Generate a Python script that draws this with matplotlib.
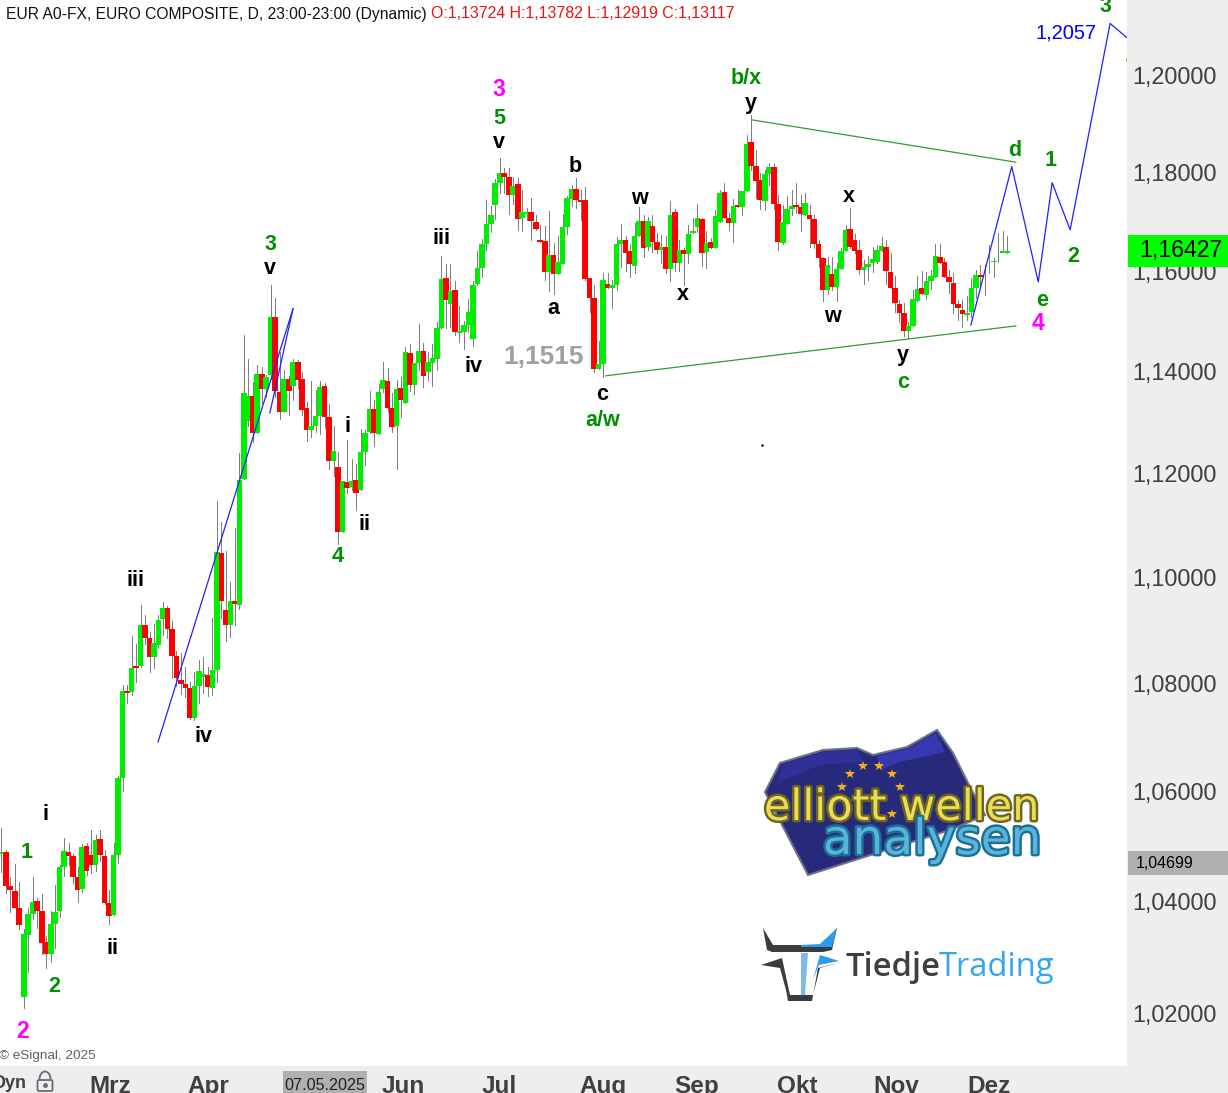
import numpy as np
import matplotlib
matplotlib.use('Agg')
import matplotlib.pyplot as plt
import matplotlib.patheffects as pe
import matplotlib.transforms as mtrans
from matplotlib.patches import Polygon, Rectangle, FancyBboxPatch, Arc

W, H = 1228, 1093

opens = [
1.0487,1.0491,1.0429,1.0420,1.0389,1.0231,1.0341,1.0379,1.0402,1.0384,1.0328,1.0307,1.0361,1.0384,1.0464,
1.0491,1.0484,1.0445,1.0424,1.0502,1.0485,1.0467,1.0514,1.0484,1.0398,1.0377,1.0485,1.0626,1.0788,1.0786,
1.0835,1.0835,1.0912,1.0887,1.0852,1.0874,1.0923,1.0944,1.0904,1.0854,1.0808,1.0801,1.0793,1.0737,1.0797,
1.0814,1.0818,1.0793,1.0827,1.1049,1.0940,1.0912,1.0958,1.0950,1.1192,1.1305,1.1354,1.1282,1.1398,1.1368,
1.1396,1.1511,1.1362,1.1323,1.1388,1.1374,1.1421,1.1388,1.1331,1.1287,1.1295,1.1315,1.1374,1.1313,1.1227,
1.1215,1.1089,1.1186,1.1176,1.1190,1.1171,1.1244,1.1283,1.1329,1.1280,1.1368,1.1384,1.1331,1.1295,1.1370,
1.1340,1.1439,1.1376,1.1419,1.1443,1.1401,1.1419,1.1427,1.1489,1.1589,1.1537,1.1565,1.1479,1.1481,1.1495,
1.1467,1.1577,1.1609,1.1657,1.1698,1.1737,1.1781,1.1802,1.1794,1.1757,1.1779,1.1710,1.1718,1.1722,1.1702,
1.1666,1.1663,1.1601,1.1635,1.1597,1.1617,1.1692,1.1749,1.1769,1.1747,1.1747,1.1589,1.1549,1.1407,1.1417,
1.1577,1.1569,1.1575,1.1657,1.1666,1.1643,1.1613,1.1674,1.1704,1.1651,1.1694,1.1661,1.1645,1.1651,1.1607,
1.1722,1.1619,1.1645,1.1637,1.1680,1.1692,1.1708,1.1641,1.1661,1.1649,1.1702,1.1763,1.1710,1.1700,1.1737,
1.1732,1.1765,1.1865,1.1816,1.1788,1.1745,1.1800,1.1814,1.1739,1.1659,1.1698,1.1728,1.1737,1.1732,1.1716,
1.1716,1.1708,1.1657,1.1629,1.1565,1.1597,1.1571,1.1607,1.1643,1.1688,1.1666,1.1645,1.1605,1.1611,1.1619,
1.1621,1.1643,1.1651,1.1601,1.1569,1.1537,1.1519,1.1483,1.1493,1.1543,1.1569,1.1555,1.1583,1.1591,1.1631,
1.1621,1.1591,1.1579,1.1537,1.1525,1.1515,1.1521,1.1569,1.1595,1.1599,1.1609,1.1621,1.1670,1.1639,1.1639]
highs = [
1.0535,1.0494,1.0446,1.0469,1.0436,1.0352,1.0389,1.0445,1.0407,1.0415,1.0339,1.0384,1.0431,1.0467,1.0516,
1.0507,1.0488,1.0464,1.0505,1.0507,1.0531,1.0522,1.0531,1.0494,1.0422,1.0507,1.0630,1.0799,1.0799,1.0891,
1.0876,1.0950,1.0931,1.0899,1.0914,1.0931,1.0956,1.0948,1.0920,1.0863,1.0859,1.0833,1.0805,1.0823,1.0846,
1.0852,1.0833,1.0925,1.1149,1.1109,1.1053,1.0994,1.1097,1.1242,1.1475,1.1427,1.1382,1.1415,1.1411,1.1396,
1.1575,1.1549,1.1441,1.1405,1.1394,1.1427,1.1425,1.1401,1.1342,1.1384,1.1366,1.1384,1.1380,1.1338,1.1295,
1.1244,1.1188,1.1268,1.1231,1.1221,1.1289,1.1287,1.1364,1.1346,1.1378,1.1421,1.1409,1.1360,1.1386,1.1392,
1.1451,1.1457,1.1419,1.1497,1.1459,1.1441,1.1457,1.1501,1.1633,1.1617,1.1617,1.1583,1.1533,1.1503,1.1547,
1.1583,1.1643,1.1668,1.1747,1.1735,1.1790,1.1833,1.1812,1.1812,1.1794,1.1792,1.1767,1.1730,1.1751,1.1716,
1.1696,1.1694,1.1724,1.1659,1.1674,1.1718,1.1755,1.1777,1.1792,1.1767,1.1773,1.1589,1.1575,1.1463,1.1599,
1.1599,1.1585,1.1672,1.1698,1.1674,1.1657,1.1700,1.1732,1.1716,1.1712,1.1716,1.1680,1.1676,1.1674,1.1745,
1.1728,1.1666,1.1649,1.1696,1.1710,1.1739,1.1710,1.1684,1.1670,1.1726,1.1767,1.1781,1.1720,1.1749,1.1767,
1.1765,1.1880,1.1921,1.1849,1.1802,1.1808,1.1822,1.1820,1.1757,1.1737,1.1755,1.1767,1.1781,1.1757,1.1761,
1.1737,1.1716,1.1666,1.1631,1.1631,1.1631,1.1619,1.1649,1.1696,1.1730,1.1678,1.1666,1.1625,1.1633,1.1651,
1.1655,1.1672,1.1666,1.1639,1.1593,1.1545,1.1539,1.1501,1.1565,1.1593,1.1603,1.1601,1.1605,1.1657,1.1657,
1.1629,1.1605,1.1599,1.1545,1.1545,1.1553,1.1589,1.1605,1.1615,1.1615,1.1655,1.1629,1.1680,1.1684,1.1674]
lows = [
1.0455,1.0416,1.0383,1.0416,1.0351,1.0211,1.0274,1.0369,1.0354,1.0306,1.0282,1.0293,1.0318,1.0374,1.0448,
1.0467,1.0435,1.0401,1.0419,1.0449,1.0453,1.0456,1.0474,1.0397,1.0361,1.0377,1.0471,1.0602,1.0765,1.0780,
1.0805,1.0833,1.0876,1.0823,1.0831,1.0868,1.0893,1.0887,1.0813,1.0797,1.0782,1.0777,1.0736,1.0734,1.0765,
1.0784,1.0778,1.0780,1.0805,1.0925,1.0882,1.0889,1.0912,1.0942,1.1192,1.1295,1.1264,1.1282,1.1340,1.1352,
1.1388,1.1352,1.1309,1.1323,1.1317,1.1346,1.1370,1.1317,1.1266,1.1274,1.1283,1.1280,1.1291,1.1211,1.1198,
1.1066,1.1089,1.1165,1.1171,1.1132,1.1171,1.1219,1.1282,1.1256,1.1280,1.1362,1.1323,1.1283,1.1211,1.1313,
1.1340,1.1364,1.1358,1.1405,1.1372,1.1386,1.1374,1.1405,1.1489,1.1489,1.1491,1.1475,1.1461,1.1447,1.1481,
1.1453,1.1575,1.1591,1.1645,1.1682,1.1708,1.1761,1.1761,1.1718,1.1739,1.1686,1.1684,1.1706,1.1666,1.1686,
1.1661,1.1585,1.1563,1.1557,1.1597,1.1617,1.1678,1.1735,1.1730,1.1706,1.1585,1.1521,1.1401,1.1407,1.1392,
1.1569,1.1529,1.1565,1.1611,1.1603,1.1591,1.1599,1.1674,1.1631,1.1645,1.1641,1.1639,1.1619,1.1599,1.1583,
1.1603,1.1603,1.1575,1.1619,1.1680,1.1682,1.1613,1.1609,1.1649,1.1649,1.1702,1.1710,1.1686,1.1661,1.1732,
1.1716,1.1765,1.1808,1.1751,1.1728,1.1726,1.1777,1.1728,1.1645,1.1657,1.1698,1.1716,1.1720,1.1684,1.1716,
1.1651,1.1649,1.1611,1.1543,1.1557,1.1565,1.1543,1.1607,1.1643,1.1649,1.1639,1.1597,1.1577,1.1585,1.1601,
1.1619,1.1643,1.1577,1.1569,1.1521,1.1501,1.1473,1.1469,1.1493,1.1543,1.1557,1.1547,1.1567,1.1591,1.1619,
1.1591,1.1559,1.1519,1.1505,1.1491,1.1505,1.1511,1.1549,1.1575,1.1555,1.1599,1.1591,1.1621,1.1641,1.1639]
closes = [
1.0491,1.0429,1.0421,1.0389,1.0359,1.0343,1.0379,1.0400,1.0384,1.0327,1.0307,1.0361,1.0382,1.0464,1.0493,
1.0484,1.0445,1.0422,1.0500,1.0456,1.0467,1.0513,1.0485,1.0398,1.0375,1.0485,1.0626,1.0788,1.0784,1.0831,
1.0831,1.0912,1.0887,1.0852,1.0878,1.0922,1.0944,1.0904,1.0854,1.0812,1.0801,1.0793,1.0737,1.0797,1.0825,
1.0820,1.0795,1.0827,1.1051,1.0958,1.0912,1.0958,1.0952,1.1190,1.1360,1.1354,1.1282,1.1398,1.1368,1.1392,
1.1511,1.1364,1.1323,1.1388,1.1364,1.1421,1.1386,1.1327,1.1287,1.1295,1.1315,1.1372,1.1313,1.1227,1.1246,
1.1089,1.1188,1.1174,1.1188,1.1165,1.1244,1.1282,1.1329,1.1282,1.1362,1.1386,1.1331,1.1293,1.1368,1.1346,
1.1441,1.1376,1.1419,1.1443,1.1394,1.1421,1.1429,1.1489,1.1587,1.1545,1.1563,1.1481,1.1483,1.1495,1.1521,
1.1575,1.1609,1.1657,1.1698,1.1716,1.1781,1.1802,1.1794,1.1757,1.1775,1.1708,1.1722,1.1722,1.1704,1.1688,
1.1661,1.1601,1.1635,1.1597,1.1621,1.1692,1.1751,1.1769,1.1747,1.1743,1.1587,1.1549,1.1407,1.1417,1.1585,
1.1569,1.1575,1.1657,1.1666,1.1639,1.1617,1.1674,1.1704,1.1649,1.1704,1.1661,1.1645,1.1651,1.1607,1.1716,
1.1619,1.1645,1.1637,1.1678,1.1684,1.1710,1.1639,1.1659,1.1649,1.1714,1.1761,1.1710,1.1700,1.1735,1.1732,
1.1765,1.1861,1.1816,1.1785,1.1747,1.1800,1.1814,1.1739,1.1661,1.1702,1.1728,1.1735,1.1732,1.1718,1.1741,
1.1708,1.1657,1.1629,1.1565,1.1615,1.1571,1.1607,1.1643,1.1686,1.1651,1.1643,1.1605,1.1611,1.1617,1.1627,
1.1645,1.1653,1.1603,1.1569,1.1539,1.1519,1.1483,1.1493,1.1547,1.1567,1.1557,1.1583,1.1593,1.1633,1.1619,
1.1591,1.1581,1.1537,1.1529,1.1517,1.1519,1.1569,1.1595,1.1591,1.1599,1.1609,1.1623,1.1670,1.1643,1.1643]

price_ticks = [1.20, 1.18, 1.16, 1.14, 1.12, 1.10, 1.08, 1.06, 1.04, 1.02]
month_labels = ['Mrz', 'Apr', 'Jun', 'Jul', 'Aug', 'Sep', 'Okt', 'Nov', 'Dez']
month_bars = [24.2, 46.0, 89.4, 110.8, 134.0, 154.9, 177.2, 199.4, 220.0]

# projected wave path and the trend lines, bar number / price
proj_bars = [215.9, 225.0, 230.9, 234.0, 238.0, 246.9, 250.66]
proj_prices = [1.1495, 1.1815, 1.1581, 1.1782, 1.1686, 1.2112, 1.2082]
upper_bars, upper_prices = [167.2, 225.9], [1.1911, 1.1824]
lower_bars, lower_prices = [134.6, 225.9], [1.1394, 1.1493]
channel_bars, channel_prices = [34.9, 64.95], [1.0693, 1.1527]
channel2_bars, channel2_prices = [59.8, 64.95], [1.1321, 1.1527]

# wave labels: text, x px, y px
black_labels = [('v', 499, 143), ('y', 751, 104), ('b', 575, 166), ('w', 639, 199), ('x', 849, 196),
                ('x', 683, 295), ('a', 553, 309), ('c', 602, 395), ('v', 270, 269), ('iii', 441, 239),
                ('iv', 473, 366), ('i', 347, 426), ('ii', 365, 524), ('iii', 135, 581), ('iv', 203, 737),
                ('i', 45, 815), ('ii', 113, 949), ('w', 832, 317), ('y', 903, 356)]
green_labels = [('5', 499, 118), ('b/x', 746, 78), ('a/w', 603, 420), ('3', 270, 244), ('4', 338, 556),
                ('1', 27, 852), ('2', 54, 986), ('c', 903, 382), ('d', 1015, 151), ('1', 1051, 160),
                ('2', 1073, 256), ('e', 1042, 301), ('3', 1105, 7)]
magenta_labels = [('3', 499, 90), ('2', 23, 1031), ('4', 1038, 324)]

plt.rcParams['font.family'] = ['Liberation Sans', 'DejaVu Sans']
fig = plt.figure(figsize=(W/100, H/100), dpi=100, facecolor='#eeeeee')
ax = fig.add_axes([0, 1-1066/H, 1127/W, 1066/H], facecolor='white')

bars = np.arange(len(opens))
o, h, l, c = map(np.array, (opens, highs, lows, closes))
ax.vlines(bars, l, h, color='#7f7f7f', lw=0.6, zorder=1, antialiased=False)
up = c >= o
cols = np.where(up, '#00ee00', '#ff0000')
ax.bar(bars, np.abs(c-o), 1.25, bottom=np.minimum(o, c), color=cols, lw=0, zorder=2, antialiased=False)

ax.plot(proj_bars, proj_prices, color='#1f1fff', lw=0.9, zorder=3)
ax.plot(channel_bars, channel_prices, color='#1f1fff', lw=0.9, zorder=3)
ax.plot(channel2_bars, channel2_prices, color='#1f1fff', lw=0.9, zorder=3)
ax.plot(upper_bars, upper_prices, color='#2e9e2e', lw=0.9, zorder=3)
ax.plot(lower_bars, lower_prices, color='#2e9e2e', lw=0.9, zorder=3)

ax.set_yscale('log')
ax.set_ylim(1.01086, 1.21613)
ax.set_xlim(-0.29, 250.66)
ax.yaxis.tick_right()
ax.minorticks_off()
ax.set_yticks(price_ticks)
ax.set_yticklabels([('%.5f' % p).replace('.', ',') for p in price_ticks])
ax.tick_params(axis='y', length=0, pad=4, labelsize=16.9, labelcolor='#404040')
# labels sit a little above their tick in the reference
nudge = mtrans.ScaledTranslation(0, 1.5/100, fig.dpi_scale_trans)
for t in ax.yaxis.get_major_ticks():
    t.label2.set_transform(t.label2.get_transform() + nudge)
ax.set_xticks(month_bars)
ax.set_xticklabels(month_labels, fontweight='bold')
ax.tick_params(axis='x', length=0, pad=6.5, labelsize=17.5, labelcolor='#404040')
for s in ax.spines.values():
    s.set_visible(False)

# overlay in pixel coordinates for annotations, logos and boxes
ov = fig.add_axes([0, 0, 1, 1], facecolor='none')
ov.set_xlim(0, W)
ov.set_ylim(H, 0)
ov.axis('off')

for txt, x, y in black_labels:
    ov.text(x, y, txt, color='black', fontsize=15.5, fontweight='bold', ha='center', va='center')
for txt, x, y in green_labels:
    ov.text(x, y, txt, color='#009000', fontsize=15.5, fontweight='bold', ha='center', va='center')
for txt, x, y in magenta_labels:
    ov.text(x, y, txt, color='#ff00ff', fontsize=16.5, fontweight='bold', ha='center', va='center')
ov.text(544, 357, '1,1515', color='#a0a0a0', fontsize=19, fontweight='bold', ha='center', va='center')
ov.text(1066, 33, '1,2057', color='#0000ff', fontsize=14.5, ha='center', va='center')

ov.text(6, 14, 'EUR A0-FX, EURO COMPOSITE, D, 23:00-23:00 (Dynamic)', color='#111111', fontsize=11.25, va='center')
ov.text(431, 14, 'O:1,13724 H:1,13782 L:1,12919 C:1,13117', color='#ee1111', fontsize=11.4, va='center')
ov.text(-1, 1056, '© eSignal, 2025', color='#606060', fontsize=9.7, va='center')

# price boxes on the right
ov.add_patch(Rectangle((1128, 235), 100, 32, color='#00ff00', lw=0, zorder=5))
ov.text(1139, 251, '1,16427', color='black', fontsize=16.7, va='center', zorder=6)
ov.add_patch(Rectangle((1128, 851), 100, 24, color='#b0b0b0', lw=0, zorder=5))
ov.text(1136, 863, '1,04699', color='black', fontsize=11.5, va='center', zorder=6)
ov.add_patch(Rectangle((1125.5, 58), 1.5, 4, color='#f0b020', lw=0))
ov.plot([762], [445], '.', color='black', ms=1.5)

# bottom strip extras
ov.add_patch(Rectangle((283, 1071), 84, 22, color='#b0b0b0', lw=0))
ov.text(325, 1085, '07.05.2025', color='#202020', fontsize=11.6, ha='center', va='center')
ov.text(27, 1083, 'Dyn', color='#404040', fontsize=13, fontweight='bold', ha='right', va='center')
ov.add_patch(FancyBboxPatch((37.5, 1080), 15, 11, boxstyle='round,pad=0,rounding_size=1.5', fc='none', ec='#6a6a78', lw=1.3))
ov.add_patch(Arc((45, 1079), 11, 15, theta1=180, theta2=360, ec='#6a6a78', lw=1.3))
ov.plot([45], [1085], 'o', color='#6a6a78', ms=2.5)

# elliott wellen analysen logo
flag = [(765, 792), (780, 763), (823, 750), (857, 748), (873, 755), (907, 747), (937, 730), (953, 753), (970, 787),
        (985, 815), (950, 830), (880, 852), (808, 875)]
ov.add_patch(Polygon(flag, closed=True, fc='#27297a', ec='#6f7088', lw=1.5, zorder=2))
ov.add_patch(Polygon([(877, 756), (907, 749), (936, 733), (945, 752), (900, 762), (880, 770)], closed=True,
                     fc='#3638b0', lw=0, zorder=2))
ov.add_patch(Polygon([(782, 765), (823, 752), (857, 750), (863, 762), (820, 765), (778, 782)], closed=True,
                     fc='#2f3198', lw=0, zorder=2))
star_x = [850, 863, 879, 892, 900, 842, 892]
star_y = [774, 766, 766, 774, 787, 787, 814]
ov.plot(star_x, star_y, '*', color='#f0b020', ms=7, mew=0, zorder=3)
ov.text(901, 808, 'elliott wellen', color='#e8dd55', fontsize=31, fontfamily='DejaVu Sans',
        ha='center', va='center', zorder=4,
        path_effects=[pe.withStroke(linewidth=3.5, foreground='#6e6620')])
ov.text(932, 840, 'analysen', color='#58b4da', fontsize=35, fontfamily='DejaVu Sans',
        ha='center', va='center', zorder=5,
        path_effects=[pe.withStroke(linewidth=3.5, foreground='#1c6f96')])

# tiedje trading logo
dark = '#3c3c40'
ov.add_patch(Polygon([(763, 928), (773, 945), (823, 945), (837, 928), (832, 950), (823, 952), (772, 952), (767, 950)],
                     closed=True, fc=dark, lw=0))
ov.add_patch(Polygon([(801, 945), (820, 944), (837, 928), (832, 947), (801, 947)], closed=True, fc='#2d9cf0', lw=0))
ov.add_patch(Polygon([(761, 965), (782, 958), (790, 995), (802, 995), (802, 1001), (788, 1001), (786, 990), (780, 968)],
                     closed=True, fc=dark, lw=0))
ov.add_patch(Polygon([(840, 962), (820, 968), (813, 995), (802, 995), (802, 1001), (812, 1001), (818, 968)],
                     closed=True, fc=dark, lw=0))
ov.add_patch(Polygon([(820, 955), (839, 961), (819, 965), (813, 980)], closed=True, fc='#2d9cf0', lw=0))
ov.add_patch(Polygon([(801, 953), (808, 953), (805, 995), (801, 995)], closed=True, fc='#7fb8ea', lw=0))
ov.text(845, 967, 'Tiedje', color='#3f3f3f', fontsize=23.5, fontfamily='Open Sans', fontweight='semibold', va='center')
ov.text(939, 967, 'Trading', color='#35a5ee', fontsize=23.6, fontfamily='Open Sans', va='center')

fig.savefig('out.png', dpi=100, facecolor=fig.get_facecolor())
